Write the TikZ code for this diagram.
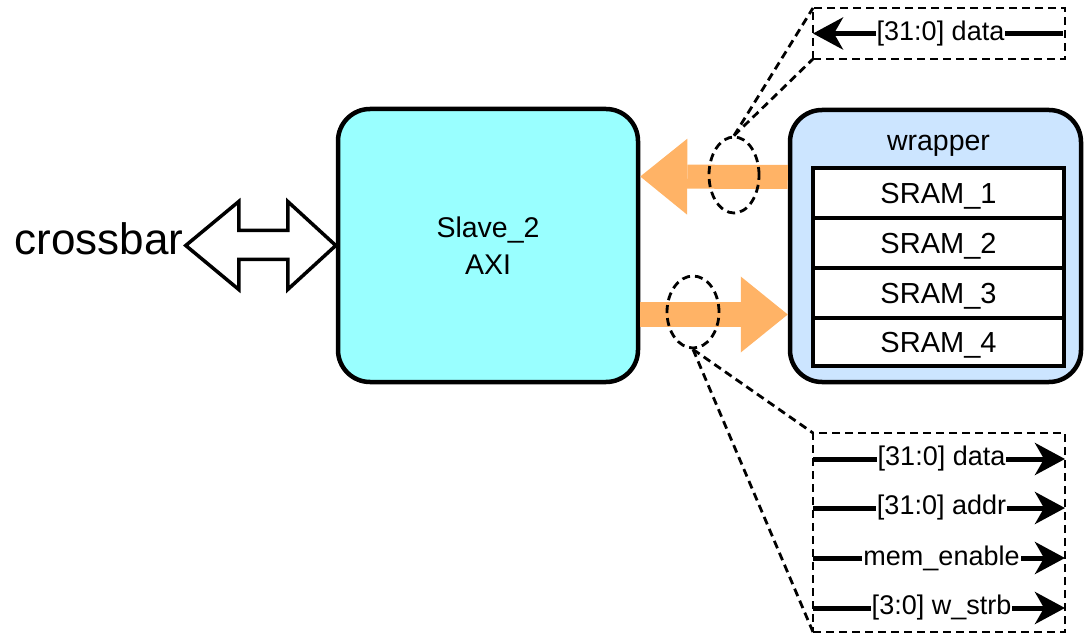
\documentclass[tikz,border=0pt]{standalone}
\usepackage{fontspec}
\setmainfont{Liberation Sans}
\usetikzlibrary{arrows.meta,shapes.geometric,calc}
\definecolor{slavefill}{HTML}{99FFFF}
\definecolor{wrapfill}{HTML}{CCE5FF}
\definecolor{busorange}{HTML}{FFB366}
\begin{document}
\begin{tikzpicture}[x=1pt,y=-1pt,
  block/.style={draw=black, line width=4.5pt, rounded corners=32pt, inner sep=0pt},
  sram/.style={draw=black, line width=4.5pt, fill=white, minimum width=251pt,
    minimum height=50pt, inner sep=0pt, text height=20.5pt, text depth=0pt,
    font=\fontsize{29}{34}\selectfont},
  lbl/.style={font=\fontsize{28.5}{37}\selectfont},
  zoomring/.style={draw=black, line width=2.8pt, dash pattern=on 8pt off 5pt,
    ellipse, inner sep=0pt},
  callout/.style={draw=black, line width=2.8pt, dash pattern=on 8pt off 5pt},
  calloutbox/.style={callout, rectangle, inner sep=0pt, outer sep=0pt},
  bus/.style={busorange, line width=24pt,
    -{Triangle[length=47pt,width=76pt,line width=0pt 0]}},
  sig/.style={line width=5pt, -{Stealth[length=30pt,width=32pt,inset=9pt]}},
  siglbl/.style={fill=white, inner sep=1pt, font=\fontsize{27}{30}\selectfont},
]
\useasboundingbox (0,0) rectangle (1084,636);

% main blocks
\node[block, fill=slavefill, minimum width=300pt, minimum height=273pt,
  lbl, align=center] (slave) at (488,245.5) {Slave\_2\\AXI};
\node[block, fill=wrapfill, minimum width=291pt, minimum height=272pt]
  (wrapper) at (935.5,246) {};
\node[lbl, anchor=base, inner sep=0pt] (wraplbl) at (938.5,151) {wrapper};

% memory banks
\node[sram] (sram1) at (938.5,193) {SRAM\_1};
\node[sram] (sram2) at (938.5,243) {SRAM\_2};
\node[sram] (sram3) at (938.5,293) {SRAM\_3};
\node[sram, minimum height=48pt] (sram4) at (938.5,342) {SRAM\_4};

% buses between the slave and the wrapper
\draw[bus] ($(wrapper.west)+(0,-69)$) -- ($(slave.east)+(0,-69)$);
\draw[bus] ($(slave.east)+(0,69)$) -- ($(wrapper.west)+(0,68.5)$);

% crossbar link
\begin{scope}[shift={(slave.west)}]
  \draw[line width=3.5pt, fill=white, line join=miter]
    (0,0) -- (-48,-44) -- (-48,-15) -- (-97,-15) -- (-97,-44) -- (-150,0)
    -- (-97,44) -- (-97,14) -- (-48,14) -- (-48,44) -- cycle;
  \coordinate (xbtip) at (-152,0);
\end{scope}
\node[anchor=base east, inner sep=0pt, font=\fontsize{44}{50}\selectfont]
  (crossbar) at ($(xbtip)+(0,9)$) {crossbar};

% rings around the buses
\node[zoomring, minimum width=50pt, minimum height=76pt] (ringtop) at (734,175) {};
\node[zoomring, minimum width=52pt, minimum height=72pt] (ringbot) at (693,312) {};

% callout boxes
\node[calloutbox, minimum width=252pt, minimum height=51pt] (topbox) at (939,33.5) {};
\node[calloutbox, minimum width=252pt, minimum height=199pt] (botbox) at (939,532.5) {};

\draw[callout] (ringtop.north) -- (topbox.north west);
\draw[callout] (ringtop.north) -- (topbox.south west);
\draw[callout] (ringbot.south) -- (botbox.north west);
\draw[callout] (ringbot.south) -- (botbox.south west);

% read signal
\draw[sig] ($(topbox.east)+(-2,0)$) -- (topbox.west)
  node[siglbl, pos=0.49] {[31:0] data};

% write signals
\draw[sig] ($(botbox.north west)+(0,26)$) -- ($(botbox.north east)+(0,26)$)
  node[siglbl, pos=0.51] {[31:0] data};
\draw[sig] ($(botbox.north west)+(0,75)$) -- ($(botbox.north east)+(0,75)$)
  node[siglbl, pos=0.51] {[31:0] addr};
\draw[sig] ($(botbox.north west)+(0,125)$) -- ($(botbox.north east)+(0,125)$)
  node[siglbl, pos=0.51] {mem\_enable};
\draw[sig] ($(botbox.north west)+(0,175)$) -- ($(botbox.north east)+(0,175)$)
  node[siglbl, pos=0.51] {[3:0] w\_strb};
\end{tikzpicture}
\end{document}
